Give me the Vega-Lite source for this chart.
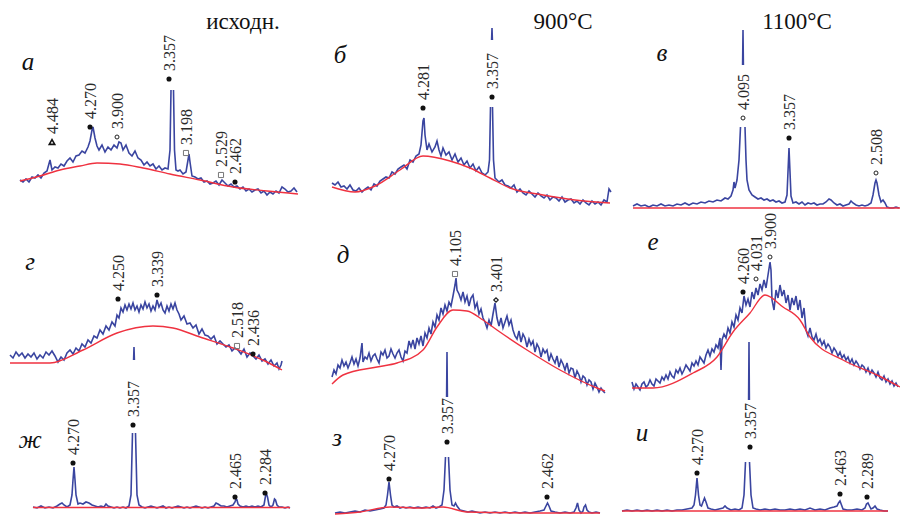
{
"$schema": "https://vega.github.io/schema/vega-lite/v6.json",
"autosize": {"type": "pad"},
"padding": 0,
"background": "white",
"config": {"view": {"stroke": null}},
"data": {"values": [
{"r":0,"c":0,"s":0,"x":20,"y":42},{"r":0,"c":0,"s":0,"x":23,"y":40},{"r":0,"c":0,"s":0,"x":26,"y":43},{"r":0,"c":0,"s":0,"x":29,"y":40},{"r":0,"c":0,"s":0,"x":32,"y":45},{"r":0,"c":0,"s":0,"x":35,"y":44},{"r":0,"c":0,"s":0,"x":38,"y":47},{"r":0,"c":0,"s":0,"x":41,"y":44},{"r":0,"c":0,"s":0,"x":44,"y":49},{"r":0,"c":0,"s":0,"x":47,"y":51},{"r":0,"c":0,"s":0,"x":50,"y":62},{"r":0,"c":0,"s":0,"x":52,"y":52},{"r":0,"c":0,"s":0,"x":55,"y":55},{"r":0,"c":0,"s":0,"x":58,"y":54},{"r":0,"c":0,"s":0,"x":61,"y":58},{"r":0,"c":0,"s":0,"x":64,"y":56},{"r":0,"c":0,"s":0,"x":67,"y":61},{"r":0,"c":0,"s":0,"x":70,"y":64},{"r":0,"c":0,"s":0,"x":73,"y":60},{"r":0,"c":0,"s":0,"x":76,"y":66},{"r":0,"c":0,"s":0,"x":79,"y":67},{"r":0,"c":0,"s":0,"x":82,"y":71},{"r":0,"c":0,"s":0,"x":85,"y":69},{"r":0,"c":0,"s":0,"x":88,"y":75},{"r":0,"c":0,"s":0,"x":90,"y":81},{"r":0,"c":0,"s":0,"x":92,"y":92},{"r":0,"c":0,"s":0,"x":93,"y":95},{"r":0,"c":0,"s":0,"x":95,"y":84},{"r":0,"c":0,"s":0,"x":97,"y":76},{"r":0,"c":0,"s":0,"x":99,"y":72},{"r":0,"c":0,"s":0,"x":102,"y":77},{"r":0,"c":0,"s":0,"x":105,"y":70},{"r":0,"c":0,"s":0,"x":108,"y":75},{"r":0,"c":0,"s":0,"x":111,"y":72},{"r":0,"c":0,"s":0,"x":114,"y":77},{"r":0,"c":0,"s":0,"x":117,"y":74},{"r":0,"c":0,"s":0,"x":119,"y":80},{"r":0,"c":0,"s":0,"x":121,"y":79},{"r":0,"c":0,"s":0,"x":123,"y":72},{"r":0,"c":0,"s":0,"x":126,"y":77},{"r":0,"c":0,"s":0,"x":129,"y":69},{"r":0,"c":0,"s":0,"x":132,"y":66},{"r":0,"c":0,"s":0,"x":135,"y":71},{"r":0,"c":0,"s":0,"x":138,"y":64},{"r":0,"c":0,"s":0,"x":141,"y":62},{"r":0,"c":0,"s":0,"x":144,"y":57},{"r":0,"c":0,"s":0,"x":147,"y":60},{"r":0,"c":0,"s":0,"x":150,"y":56},{"r":0,"c":0,"s":0,"x":153,"y":58},{"r":0,"c":0,"s":0,"x":156,"y":53},{"r":0,"c":0,"s":0,"x":159,"y":56},{"r":0,"c":0,"s":0,"x":162,"y":52},{"r":0,"c":0,"s":0,"x":165,"y":54},{"r":0,"c":0,"s":0,"x":168,"y":53},{"r":0,"c":0,"s":0,"x":170,"y":72},{"r":0,"c":0,"s":0,"x":171,"y":132},
{"r":0,"c":0,"s":1,"x":173.5,"y":132},{"r":0,"c":0,"s":1,"x":174.5,"y":72},{"r":0,"c":0,"s":1,"x":176,"y":52},{"r":0,"c":0,"s":1,"x":178,"y":51},{"r":0,"c":0,"s":1,"x":180,"y":52},{"r":0,"c":0,"s":1,"x":183,"y":48},{"r":0,"c":0,"s":1,"x":186,"y":50},{"r":0,"c":0,"s":1,"x":188,"y":62},{"r":0,"c":0,"s":1,"x":189,"y":68},{"r":0,"c":0,"s":1,"x":190,"y":60},{"r":0,"c":0,"s":1,"x":192,"y":46},{"r":0,"c":0,"s":1,"x":195,"y":45},{"r":0,"c":0,"s":1,"x":198,"y":43},{"r":0,"c":0,"s":1,"x":201,"y":44},{"r":0,"c":0,"s":1,"x":204,"y":40},{"r":0,"c":0,"s":1,"x":207,"y":41},{"r":0,"c":0,"s":1,"x":210,"y":38},{"r":0,"c":0,"s":1,"x":213,"y":39},{"r":0,"c":0,"s":1,"x":216,"y":41},{"r":0,"c":0,"s":1,"x":219,"y":37},{"r":0,"c":0,"s":1,"x":222,"y":42},{"r":0,"c":0,"s":1,"x":225,"y":39},{"r":0,"c":0,"s":1,"x":228,"y":36},{"r":0,"c":0,"s":1,"x":231,"y":38},{"r":0,"c":0,"s":1,"x":234,"y":35},{"r":0,"c":0,"s":1,"x":237,"y":36},{"r":0,"c":0,"s":1,"x":240,"y":33},{"r":0,"c":0,"s":1,"x":243,"y":35},{"r":0,"c":0,"s":1,"x":246,"y":31},{"r":0,"c":0,"s":1,"x":249,"y":33},{"r":0,"c":0,"s":1,"x":252,"y":30},{"r":0,"c":0,"s":1,"x":255,"y":32},{"r":0,"c":0,"s":1,"x":258,"y":33},{"r":0,"c":0,"s":1,"x":261,"y":29},{"r":0,"c":0,"s":1,"x":264,"y":31},{"r":0,"c":0,"s":1,"x":267,"y":27},{"r":0,"c":0,"s":1,"x":270,"y":30},{"r":0,"c":0,"s":1,"x":273,"y":28},{"r":0,"c":0,"s":1,"x":276,"y":31},{"r":0,"c":0,"s":1,"x":279,"y":29},{"r":0,"c":0,"s":1,"x":282,"y":35},{"r":0,"c":0,"s":1,"x":285,"y":33},{"r":0,"c":0,"s":1,"x":288,"y":30},{"r":0,"c":0,"s":1,"x":291,"y":31},{"r":0,"c":0,"s":1,"x":294,"y":34},{"r":0,"c":0,"s":1,"x":297,"y":30},
{"r":0,"c":0,"s":3,"x":20,"y":41},{"r":0,"c":0,"s":3,"x":40,"y":46},{"r":0,"c":0,"s":3,"x":60,"y":52},{"r":0,"c":0,"s":3,"x":80,"y":56},{"r":0,"c":0,"s":3,"x":97,"y":59},{"r":0,"c":0,"s":3,"x":120,"y":58},{"r":0,"c":0,"s":3,"x":143,"y":54},{"r":0,"c":0,"s":3,"x":170,"y":48},{"r":0,"c":0,"s":3,"x":200,"y":42},{"r":0,"c":0,"s":3,"x":233,"y":35},{"r":0,"c":0,"s":3,"x":267,"y":31},{"r":0,"c":0,"s":3,"x":298,"y":28},

{"r":0,"c":1,"s":0,"x":32,"y":39},{"r":0,"c":1,"s":0,"x":35,"y":37},{"r":0,"c":1,"s":0,"x":38,"y":40},{"r":0,"c":1,"s":0,"x":41,"y":35},{"r":0,"c":1,"s":0,"x":44,"y":36},{"r":0,"c":1,"s":0,"x":47,"y":33},{"r":0,"c":1,"s":0,"x":50,"y":37},{"r":0,"c":1,"s":0,"x":53,"y":32},{"r":0,"c":1,"s":0,"x":56,"y":31},{"r":0,"c":1,"s":0,"x":59,"y":34},{"r":0,"c":1,"s":0,"x":62,"y":30},{"r":0,"c":1,"s":0,"x":65,"y":33},{"r":0,"c":1,"s":0,"x":68,"y":35},{"r":0,"c":1,"s":0,"x":71,"y":32},{"r":0,"c":1,"s":0,"x":74,"y":38},{"r":0,"c":1,"s":0,"x":77,"y":36},{"r":0,"c":1,"s":0,"x":80,"y":41},{"r":0,"c":1,"s":0,"x":83,"y":43},{"r":0,"c":1,"s":0,"x":86,"y":45},{"r":0,"c":1,"s":0,"x":89,"y":44},{"r":0,"c":1,"s":0,"x":92,"y":50},{"r":0,"c":1,"s":0,"x":95,"y":48},{"r":0,"c":1,"s":0,"x":98,"y":53},{"r":0,"c":1,"s":0,"x":101,"y":55},{"r":0,"c":1,"s":0,"x":104,"y":57},{"r":0,"c":1,"s":0,"x":107,"y":53},{"r":0,"c":1,"s":0,"x":110,"y":62},{"r":0,"c":1,"s":0,"x":113,"y":60},{"r":0,"c":1,"s":0,"x":116,"y":66},{"r":0,"c":1,"s":0,"x":119,"y":68},{"r":0,"c":1,"s":0,"x":121,"y":77},{"r":0,"c":1,"s":0,"x":123,"y":101},{"r":0,"c":1,"s":0,"x":124,"y":104},{"r":0,"c":1,"s":0,"x":125,"y":87},{"r":0,"c":1,"s":0,"x":127,"y":72},{"r":0,"c":1,"s":0,"x":129,"y":78},{"r":0,"c":1,"s":0,"x":132,"y":70},{"r":0,"c":1,"s":0,"x":135,"y":75},{"r":0,"c":1,"s":0,"x":137,"y":81},{"r":0,"c":1,"s":0,"x":139,"y":72},{"r":0,"c":1,"s":0,"x":141,"y":66},{"r":0,"c":1,"s":0,"x":143,"y":74},{"r":0,"c":1,"s":0,"x":146,"y":67},{"r":0,"c":1,"s":0,"x":149,"y":70},{"r":0,"c":1,"s":0,"x":152,"y":62},{"r":0,"c":1,"s":0,"x":155,"y":68},{"r":0,"c":1,"s":0,"x":158,"y":60},{"r":0,"c":1,"s":0,"x":161,"y":64},{"r":0,"c":1,"s":0,"x":164,"y":57},{"r":0,"c":1,"s":0,"x":167,"y":61},{"r":0,"c":1,"s":0,"x":170,"y":54},{"r":0,"c":1,"s":0,"x":173,"y":58},{"r":0,"c":1,"s":0,"x":176,"y":51},{"r":0,"c":1,"s":0,"x":179,"y":55},{"r":0,"c":1,"s":0,"x":182,"y":49},{"r":0,"c":1,"s":0,"x":185,"y":47},{"r":0,"c":1,"s":0,"x":188,"y":50},{"r":0,"c":1,"s":0,"x":189.5,"y":62},{"r":0,"c":1,"s":0,"x":190.5,"y":115},
{"r":0,"c":1,"s":1,"x":192.5,"y":115},{"r":0,"c":1,"s":1,"x":193.5,"y":62},{"r":0,"c":1,"s":1,"x":195,"y":44},{"r":0,"c":1,"s":1,"x":199,"y":40},{"r":0,"c":1,"s":1,"x":202,"y":42},{"r":0,"c":1,"s":1,"x":205,"y":37},{"r":0,"c":1,"s":1,"x":208,"y":36},{"r":0,"c":1,"s":1,"x":211,"y":34},{"r":0,"c":1,"s":1,"x":214,"y":37},{"r":0,"c":1,"s":1,"x":217,"y":30},{"r":0,"c":1,"s":1,"x":220,"y":33},{"r":0,"c":1,"s":1,"x":223,"y":29},{"r":0,"c":1,"s":1,"x":226,"y":27},{"r":0,"c":1,"s":1,"x":229,"y":31},{"r":0,"c":1,"s":1,"x":232,"y":28},{"r":0,"c":1,"s":1,"x":235,"y":25},{"r":0,"c":1,"s":1,"x":238,"y":29},{"r":0,"c":1,"s":1,"x":241,"y":26},{"r":0,"c":1,"s":1,"x":244,"y":24},{"r":0,"c":1,"s":1,"x":247,"y":27},{"r":0,"c":1,"s":1,"x":250,"y":22},{"r":0,"c":1,"s":1,"x":253,"y":25},{"r":0,"c":1,"s":1,"x":256,"y":24},{"r":0,"c":1,"s":1,"x":259,"y":21},{"r":0,"c":1,"s":1,"x":262,"y":25},{"r":0,"c":1,"s":1,"x":265,"y":20},{"r":0,"c":1,"s":1,"x":268,"y":22},{"r":0,"c":1,"s":1,"x":271,"y":23},{"r":0,"c":1,"s":1,"x":274,"y":19},{"r":0,"c":1,"s":1,"x":277,"y":21},{"r":0,"c":1,"s":1,"x":280,"y":18},{"r":0,"c":1,"s":1,"x":283,"y":22},{"r":0,"c":1,"s":1,"x":286,"y":19},{"r":0,"c":1,"s":1,"x":289,"y":17},{"r":0,"c":1,"s":1,"x":292,"y":21},{"r":0,"c":1,"s":1,"x":295,"y":18},{"r":0,"c":1,"s":1,"x":298,"y":20},{"r":0,"c":1,"s":1,"x":301,"y":17},{"r":0,"c":1,"s":1,"x":304,"y":22},{"r":0,"c":1,"s":1,"x":307,"y":20},{"r":0,"c":1,"s":1,"x":309,"y":33},{"r":0,"c":1,"s":1,"x":311,"y":30},
{"r":0,"c":1,"s":2,"x":191.6,"y":182},{"r":0,"c":1,"s":2,"x":192,"y":194},{"r":0,"c":1,"s":2,"x":192.4,"y":182},
{"r":0,"c":1,"s":3,"x":32,"y":35},{"r":0,"c":1,"s":3,"x":55,"y":30},{"r":0,"c":1,"s":3,"x":75,"y":36},{"r":0,"c":1,"s":3,"x":100,"y":52},{"r":0,"c":1,"s":3,"x":123,"y":66},{"r":0,"c":1,"s":3,"x":150,"y":61},{"r":0,"c":1,"s":3,"x":170,"y":54},{"r":0,"c":1,"s":3,"x":190,"y":44},{"r":0,"c":1,"s":3,"x":210,"y":34},{"r":0,"c":1,"s":3,"x":243,"y":27},{"r":0,"c":1,"s":3,"x":275,"y":22},{"r":0,"c":1,"s":3,"x":310,"y":19},

{"r":0,"c":2,"s":0,"x":33,"y":16},{"r":0,"c":2,"s":0,"x":37,"y":18},{"r":0,"c":2,"s":0,"x":41,"y":16},{"r":0,"c":2,"s":0,"x":45,"y":17},{"r":0,"c":2,"s":0,"x":49,"y":15},{"r":0,"c":2,"s":0,"x":53,"y":17},{"r":0,"c":2,"s":0,"x":57,"y":16},{"r":0,"c":2,"s":0,"x":61,"y":18},{"r":0,"c":2,"s":0,"x":65,"y":16},{"r":0,"c":2,"s":0,"x":69,"y":17},{"r":0,"c":2,"s":0,"x":73,"y":16},{"r":0,"c":2,"s":0,"x":77,"y":18},{"r":0,"c":2,"s":0,"x":81,"y":17},{"r":0,"c":2,"s":0,"x":85,"y":19},{"r":0,"c":2,"s":0,"x":89,"y":17},{"r":0,"c":2,"s":0,"x":93,"y":19},{"r":0,"c":2,"s":0,"x":97,"y":18},{"r":0,"c":2,"s":0,"x":101,"y":20},{"r":0,"c":2,"s":0,"x":105,"y":19},{"r":0,"c":2,"s":0,"x":109,"y":21},{"r":0,"c":2,"s":0,"x":113,"y":20},{"r":0,"c":2,"s":0,"x":117,"y":22},{"r":0,"c":2,"s":0,"x":121,"y":21},{"r":0,"c":2,"s":0,"x":125,"y":24},{"r":0,"c":2,"s":0,"x":128,"y":23},{"r":0,"c":2,"s":0,"x":131,"y":26},{"r":0,"c":2,"s":0,"x":133,"y":32},{"r":0,"c":2,"s":0,"x":134,"y":40},{"r":0,"c":2,"s":0,"x":135,"y":34},{"r":0,"c":2,"s":0,"x":137,"y":42},{"r":0,"c":2,"s":0,"x":139,"y":62},{"r":0,"c":2,"s":0,"x":140.5,"y":95},
{"r":0,"c":2,"s":1,"x":145,"y":95},{"r":0,"c":2,"s":1,"x":146,"y":62},{"r":0,"c":2,"s":1,"x":147,"y":42},{"r":0,"c":2,"s":1,"x":149,"y":32},{"r":0,"c":2,"s":1,"x":152,"y":27},{"r":0,"c":2,"s":1,"x":155,"y":25},{"r":0,"c":2,"s":1,"x":158,"y":23},{"r":0,"c":2,"s":1,"x":161,"y":24},{"r":0,"c":2,"s":1,"x":164,"y":22},{"r":0,"c":2,"s":1,"x":167,"y":23},{"r":0,"c":2,"s":1,"x":170,"y":21},{"r":0,"c":2,"s":1,"x":173,"y":22},{"r":0,"c":2,"s":1,"x":176,"y":20},{"r":0,"c":2,"s":1,"x":179,"y":21},{"r":0,"c":2,"s":1,"x":182,"y":19},{"r":0,"c":2,"s":1,"x":185,"y":20},{"r":0,"c":2,"s":1,"x":187,"y":27},{"r":0,"c":2,"s":1,"x":188.5,"y":62},{"r":0,"c":2,"s":1,"x":189,"y":74},{"r":0,"c":2,"s":1,"x":189.5,"y":62},{"r":0,"c":2,"s":1,"x":191,"y":26},{"r":0,"c":2,"s":1,"x":193,"y":19},{"r":0,"c":2,"s":1,"x":196,"y":20},{"r":0,"c":2,"s":1,"x":199,"y":18},{"r":0,"c":2,"s":1,"x":202,"y":20},{"r":0,"c":2,"s":1,"x":205,"y":17},{"r":0,"c":2,"s":1,"x":208,"y":19},{"r":0,"c":2,"s":1,"x":211,"y":18},{"r":0,"c":2,"s":1,"x":214,"y":19},{"r":0,"c":2,"s":1,"x":217,"y":17},{"r":0,"c":2,"s":1,"x":220,"y":18},{"r":0,"c":2,"s":1,"x":223,"y":18},{"r":0,"c":2,"s":1,"x":226,"y":20},{"r":0,"c":2,"s":1,"x":229,"y":23},{"r":0,"c":2,"s":1,"x":231,"y":22},{"r":0,"c":2,"s":1,"x":234,"y":19},{"r":0,"c":2,"s":1,"x":237,"y":17},{"r":0,"c":2,"s":1,"x":240,"y":18},{"r":0,"c":2,"s":1,"x":243,"y":16},{"r":0,"c":2,"s":1,"x":246,"y":17},{"r":0,"c":2,"s":1,"x":249,"y":18},{"r":0,"c":2,"s":1,"x":251,"y":21},{"r":0,"c":2,"s":1,"x":253,"y":19},{"r":0,"c":2,"s":1,"x":256,"y":17},{"r":0,"c":2,"s":1,"x":259,"y":16},{"r":0,"c":2,"s":1,"x":262,"y":17},{"r":0,"c":2,"s":1,"x":265,"y":16},{"r":0,"c":2,"s":1,"x":268,"y":17},{"r":0,"c":2,"s":1,"x":271,"y":19},{"r":0,"c":2,"s":1,"x":273,"y":27},{"r":0,"c":2,"s":1,"x":275,"y":39},{"r":0,"c":2,"s":1,"x":276,"y":42},{"r":0,"c":2,"s":1,"x":277,"y":39},{"r":0,"c":2,"s":1,"x":279,"y":27},{"r":0,"c":2,"s":1,"x":281,"y":20},{"r":0,"c":2,"s":1,"x":283,"y":22},{"r":0,"c":2,"s":1,"x":285,"y":19},{"r":0,"c":2,"s":1,"x":287,"y":15},{"r":0,"c":2,"s":1,"x":290,"y":14},{"r":0,"c":2,"s":1,"x":293,"y":14},{"r":0,"c":2,"s":1,"x":296,"y":15},{"r":0,"c":2,"s":1,"x":299,"y":14},
{"r":0,"c":2,"s":2,"x":142.6,"y":157},{"r":0,"c":2,"s":2,"x":143,"y":192},{"r":0,"c":2,"s":2,"x":143.4,"y":157},
{"r":0,"c":2,"s":3,"x":33,"y":14},{"r":0,"c":2,"s":3,"x":300,"y":14},

{"r":1,"c":0,"s":0,"x":10,"y":39},{"r":1,"c":0,"s":0,"x":13,"y":36},{"r":1,"c":0,"s":0,"x":16,"y":42},{"r":1,"c":0,"s":0,"x":19,"y":38},{"r":1,"c":0,"s":0,"x":22,"y":41},{"r":1,"c":0,"s":0,"x":25,"y":36},{"r":1,"c":0,"s":0,"x":28,"y":40},{"r":1,"c":0,"s":0,"x":31,"y":37},{"r":1,"c":0,"s":0,"x":34,"y":41},{"r":1,"c":0,"s":0,"x":37,"y":35},{"r":1,"c":0,"s":0,"x":40,"y":39},{"r":1,"c":0,"s":0,"x":43,"y":36},{"r":1,"c":0,"s":0,"x":46,"y":42},{"r":1,"c":0,"s":0,"x":49,"y":39},{"r":1,"c":0,"s":0,"x":52,"y":43},{"r":1,"c":0,"s":0,"x":55,"y":38},{"r":1,"c":0,"s":0,"x":58,"y":32},{"r":1,"c":0,"s":0,"x":61,"y":37},{"r":1,"c":0,"s":0,"x":64,"y":34},{"r":1,"c":0,"s":0,"x":67,"y":41},{"r":1,"c":0,"s":0,"x":70,"y":44},{"r":1,"c":0,"s":0,"x":73,"y":40},{"r":1,"c":0,"s":0,"x":76,"y":46},{"r":1,"c":0,"s":0,"x":79,"y":43},{"r":1,"c":0,"s":0,"x":82,"y":50},{"r":1,"c":0,"s":0,"x":85,"y":47},{"r":1,"c":0,"s":0,"x":88,"y":54},{"r":1,"c":0,"s":0,"x":91,"y":51},{"r":1,"c":0,"s":0,"x":94,"y":58},{"r":1,"c":0,"s":0,"x":97,"y":56},{"r":1,"c":0,"s":0,"x":100,"y":64},{"r":1,"c":0,"s":0,"x":103,"y":60},{"r":1,"c":0,"s":0,"x":106,"y":68},{"r":1,"c":0,"s":0,"x":109,"y":64},{"r":1,"c":0,"s":0,"x":112,"y":72},{"r":1,"c":0,"s":0,"x":115,"y":68},{"r":1,"c":0,"s":0,"x":117,"y":79},{"r":1,"c":0,"s":0,"x":119,"y":76},{"r":1,"c":0,"s":0,"x":121,"y":86},{"r":1,"c":0,"s":0,"x":123,"y":82},{"r":1,"c":0,"s":0,"x":125,"y":89},{"r":1,"c":0,"s":0,"x":127,"y":84},{"r":1,"c":0,"s":0,"x":129,"y":90},{"r":1,"c":0,"s":0,"x":131,"y":85},{"r":1,"c":0,"s":0,"x":133,"y":91},{"r":1,"c":0,"s":0,"x":135,"y":84},{"r":1,"c":0,"s":0,"x":137,"y":88},{"r":1,"c":0,"s":0,"x":139,"y":82},{"r":1,"c":0,"s":0,"x":141,"y":89},{"r":1,"c":0,"s":0,"x":143,"y":85},{"r":1,"c":0,"s":0,"x":145,"y":92},{"r":1,"c":0,"s":0,"x":147,"y":86},{"r":1,"c":0,"s":0,"x":149,"y":90},{"r":1,"c":0,"s":0,"x":151,"y":83},{"r":1,"c":0,"s":0,"x":153,"y":88},{"r":1,"c":0,"s":0,"x":155,"y":84},{"r":1,"c":0,"s":0,"x":157,"y":94},{"r":1,"c":0,"s":0,"x":159,"y":87},{"r":1,"c":0,"s":0,"x":161,"y":91},{"r":1,"c":0,"s":0,"x":163,"y":84},{"r":1,"c":0,"s":0,"x":165,"y":81},{"r":1,"c":0,"s":0,"x":167,"y":88},{"r":1,"c":0,"s":0,"x":169,"y":83},{"r":1,"c":0,"s":0,"x":171,"y":90},{"r":1,"c":0,"s":0,"x":173,"y":85},{"r":1,"c":0,"s":0,"x":175,"y":91},{"r":1,"c":0,"s":0,"x":177,"y":84},{"r":1,"c":0,"s":0,"x":179,"y":80},{"r":1,"c":0,"s":0,"x":181,"y":74},{"r":1,"c":0,"s":0,"x":184,"y":78},{"r":1,"c":0,"s":0,"x":187,"y":70},{"r":1,"c":0,"s":0,"x":190,"y":71},{"r":1,"c":0,"s":0,"x":193,"y":66},{"r":1,"c":0,"s":0,"x":196,"y":69},{"r":1,"c":0,"s":0,"x":199,"y":60},{"r":1,"c":0,"s":0,"x":202,"y":65},{"r":1,"c":0,"s":0,"x":205,"y":59},{"r":1,"c":0,"s":0,"x":208,"y":58},{"r":1,"c":0,"s":0,"x":211,"y":55},{"r":1,"c":0,"s":0,"x":214,"y":58},{"r":1,"c":0,"s":0,"x":217,"y":50},{"r":1,"c":0,"s":0,"x":220,"y":53},{"r":1,"c":0,"s":0,"x":223,"y":50},{"r":1,"c":0,"s":0,"x":226,"y":47},{"r":1,"c":0,"s":0,"x":229,"y":49},{"r":1,"c":0,"s":0,"x":232,"y":43},{"r":1,"c":0,"s":0,"x":235,"y":46},{"r":1,"c":0,"s":0,"x":238,"y":44},{"r":1,"c":0,"s":0,"x":241,"y":40},{"r":1,"c":0,"s":0,"x":244,"y":45},{"r":1,"c":0,"s":0,"x":247,"y":37},{"r":1,"c":0,"s":0,"x":250,"y":41},{"r":1,"c":0,"s":0,"x":253,"y":38},{"r":1,"c":0,"s":0,"x":256,"y":35},{"r":1,"c":0,"s":0,"x":259,"y":39},{"r":1,"c":0,"s":0,"x":262,"y":33},{"r":1,"c":0,"s":0,"x":265,"y":35},{"r":1,"c":0,"s":0,"x":268,"y":30},{"r":1,"c":0,"s":0,"x":271,"y":34},{"r":1,"c":0,"s":0,"x":274,"y":28},{"r":1,"c":0,"s":0,"x":277,"y":31},{"r":1,"c":0,"s":0,"x":279,"y":25},{"r":1,"c":0,"s":0,"x":281,"y":29},{"r":1,"c":0,"s":0,"x":282,"y":33},
{"r":1,"c":0,"s":3,"x":10,"y":31},{"r":1,"c":0,"s":3,"x":50,"y":31},{"r":1,"c":0,"s":3,"x":83,"y":44},{"r":1,"c":0,"s":3,"x":117,"y":61},{"r":1,"c":0,"s":3,"x":153,"y":68},{"r":1,"c":0,"s":3,"x":173,"y":66},{"r":1,"c":0,"s":3,"x":200,"y":57},{"r":1,"c":0,"s":3,"x":233,"y":46},{"r":1,"c":0,"s":3,"x":267,"y":32},{"r":1,"c":0,"s":3,"x":282,"y":24},

{"r":1,"c":1,"s":0,"x":32,"y":17},{"r":1,"c":1,"s":0,"x":34,"y":24},{"r":1,"c":1,"s":0,"x":36,"y":20},{"r":1,"c":1,"s":0,"x":38,"y":29},{"r":1,"c":1,"s":0,"x":40,"y":26},{"r":1,"c":1,"s":0,"x":42,"y":34},{"r":1,"c":1,"s":0,"x":44,"y":28},{"r":1,"c":1,"s":0,"x":46,"y":32},{"r":1,"c":1,"s":0,"x":48,"y":26},{"r":1,"c":1,"s":0,"x":50,"y":31},{"r":1,"c":1,"s":0,"x":52,"y":37},{"r":1,"c":1,"s":0,"x":54,"y":30},{"r":1,"c":1,"s":0,"x":56,"y":35},{"r":1,"c":1,"s":0,"x":58,"y":28},{"r":1,"c":1,"s":0,"x":60,"y":36},{"r":1,"c":1,"s":0,"x":62,"y":51},{"r":1,"c":1,"s":0,"x":63,"y":32},{"r":1,"c":1,"s":0,"x":65,"y":37},{"r":1,"c":1,"s":0,"x":67,"y":35},{"r":1,"c":1,"s":0,"x":69,"y":41},{"r":1,"c":1,"s":0,"x":71,"y":33},{"r":1,"c":1,"s":0,"x":73,"y":38},{"r":1,"c":1,"s":0,"x":75,"y":40},{"r":1,"c":1,"s":0,"x":77,"y":35},{"r":1,"c":1,"s":0,"x":79,"y":31},{"r":1,"c":1,"s":0,"x":81,"y":42},{"r":1,"c":1,"s":0,"x":83,"y":39},{"r":1,"c":1,"s":0,"x":85,"y":44},{"r":1,"c":1,"s":0,"x":87,"y":36},{"r":1,"c":1,"s":0,"x":89,"y":38},{"r":1,"c":1,"s":0,"x":91,"y":45},{"r":1,"c":1,"s":0,"x":93,"y":40},{"r":1,"c":1,"s":0,"x":95,"y":36},{"r":1,"c":1,"s":0,"x":97,"y":41},{"r":1,"c":1,"s":0,"x":99,"y":44},{"r":1,"c":1,"s":0,"x":101,"y":37},{"r":1,"c":1,"s":0,"x":103,"y":33},{"r":1,"c":1,"s":0,"x":105,"y":43},{"r":1,"c":1,"s":0,"x":107,"y":41},{"r":1,"c":1,"s":0,"x":109,"y":53},{"r":1,"c":1,"s":0,"x":111,"y":47},{"r":1,"c":1,"s":0,"x":113,"y":54},{"r":1,"c":1,"s":0,"x":115,"y":45},{"r":1,"c":1,"s":0,"x":117,"y":56},{"r":1,"c":1,"s":0,"x":119,"y":50},{"r":1,"c":1,"s":0,"x":121,"y":58},{"r":1,"c":1,"s":0,"x":123,"y":48},{"r":1,"c":1,"s":0,"x":125,"y":61},{"r":1,"c":1,"s":0,"x":127,"y":56},{"r":1,"c":1,"s":0,"x":129,"y":66},{"r":1,"c":1,"s":0,"x":131,"y":60},{"r":1,"c":1,"s":0,"x":133,"y":72},{"r":1,"c":1,"s":0,"x":135,"y":67},{"r":1,"c":1,"s":0,"x":137,"y":79},{"r":1,"c":1,"s":0,"x":139,"y":74},{"r":1,"c":1,"s":0,"x":141,"y":86},{"r":1,"c":1,"s":0,"x":143,"y":80},{"r":1,"c":1,"s":0,"x":145,"y":89},{"r":1,"c":1,"s":0,"x":147,"y":83},{"r":1,"c":1,"s":0,"x":149,"y":92},{"r":1,"c":1,"s":0,"x":151,"y":88},{"r":1,"c":1,"s":0,"x":153,"y":98},{"r":1,"c":1,"s":0,"x":155,"y":109},{"r":1,"c":1,"s":0,"x":156,"y":116},{"r":1,"c":1,"s":0,"x":157,"y":104},{"r":1,"c":1,"s":0,"x":159,"y":100},{"r":1,"c":1,"s":0,"x":161,"y":94},{"r":1,"c":1,"s":0,"x":163,"y":102},{"r":1,"c":1,"s":0,"x":165,"y":92},{"r":1,"c":1,"s":0,"x":167,"y":98},{"r":1,"c":1,"s":0,"x":169,"y":88},{"r":1,"c":1,"s":0,"x":171,"y":96},{"r":1,"c":1,"s":0,"x":173,"y":99},{"r":1,"c":1,"s":0,"x":175,"y":86},{"r":1,"c":1,"s":0,"x":177,"y":91},{"r":1,"c":1,"s":0,"x":179,"y":80},{"r":1,"c":1,"s":0,"x":181,"y":85},{"r":1,"c":1,"s":0,"x":183,"y":76},{"r":1,"c":1,"s":0,"x":185,"y":72},{"r":1,"c":1,"s":0,"x":187,"y":66},{"r":1,"c":1,"s":0,"x":189,"y":74},{"r":1,"c":1,"s":0,"x":191,"y":68},{"r":1,"c":1,"s":0,"x":193,"y":80},{"r":1,"c":1,"s":0,"x":195,"y":91},{"r":1,"c":1,"s":0,"x":197,"y":76},{"r":1,"c":1,"s":0,"x":199,"y":68},{"r":1,"c":1,"s":0,"x":201,"y":76},{"r":1,"c":1,"s":0,"x":203,"y":66},{"r":1,"c":1,"s":0,"x":205,"y":72},{"r":1,"c":1,"s":0,"x":207,"y":78},{"r":1,"c":1,"s":0,"x":209,"y":69},{"r":1,"c":1,"s":0,"x":211,"y":74},{"r":1,"c":1,"s":0,"x":213,"y":64},{"r":1,"c":1,"s":0,"x":215,"y":58},{"r":1,"c":1,"s":0,"x":217,"y":55},{"r":1,"c":1,"s":0,"x":219,"y":63},{"r":1,"c":1,"s":0,"x":221,"y":52},{"r":1,"c":1,"s":0,"x":223,"y":60},{"r":1,"c":1,"s":0,"x":225,"y":56},{"r":1,"c":1,"s":0,"x":227,"y":47},{"r":1,"c":1,"s":0,"x":229,"y":55},{"r":1,"c":1,"s":0,"x":231,"y":49},{"r":1,"c":1,"s":0,"x":233,"y":53},{"r":1,"c":1,"s":0,"x":235,"y":42},{"r":1,"c":1,"s":0,"x":237,"y":50},{"r":1,"c":1,"s":0,"x":239,"y":46},{"r":1,"c":1,"s":0,"x":241,"y":37},{"r":1,"c":1,"s":0,"x":243,"y":45},{"r":1,"c":1,"s":0,"x":245,"y":41},{"r":1,"c":1,"s":0,"x":247,"y":44},{"r":1,"c":1,"s":0,"x":249,"y":33},{"r":1,"c":1,"s":0,"x":251,"y":40},{"r":1,"c":1,"s":0,"x":253,"y":35},{"r":1,"c":1,"s":0,"x":255,"y":31},{"r":1,"c":1,"s":0,"x":257,"y":38},{"r":1,"c":1,"s":0,"x":259,"y":27},{"r":1,"c":1,"s":0,"x":261,"y":34},{"r":1,"c":1,"s":0,"x":263,"y":30},{"r":1,"c":1,"s":0,"x":265,"y":24},{"r":1,"c":1,"s":0,"x":267,"y":31},{"r":1,"c":1,"s":0,"x":269,"y":21},{"r":1,"c":1,"s":0,"x":271,"y":26},{"r":1,"c":1,"s":0,"x":273,"y":25},{"r":1,"c":1,"s":0,"x":275,"y":16},{"r":1,"c":1,"s":0,"x":277,"y":23},{"r":1,"c":1,"s":0,"x":279,"y":19},{"r":1,"c":1,"s":0,"x":281,"y":12},{"r":1,"c":1,"s":0,"x":283,"y":18},{"r":1,"c":1,"s":0,"x":285,"y":16},{"r":1,"c":1,"s":0,"x":287,"y":9},{"r":1,"c":1,"s":0,"x":289,"y":14},{"r":1,"c":1,"s":0,"x":291,"y":12},{"r":1,"c":1,"s":0,"x":293,"y":5},{"r":1,"c":1,"s":0,"x":295,"y":11},{"r":1,"c":1,"s":0,"x":297,"y":7},{"r":1,"c":1,"s":0,"x":299,"y":2},{"r":1,"c":1,"s":0,"x":301,"y":6},{"r":1,"c":1,"s":0,"x":303,"y":3},{"r":1,"c":1,"s":0,"x":305,"y":1},
{"r":1,"c":1,"s":3,"x":32,"y":10},{"r":1,"c":1,"s":3,"x":43,"y":19},{"r":1,"c":1,"s":3,"x":77,"y":27},{"r":1,"c":1,"s":3,"x":97,"y":31},{"r":1,"c":1,"s":3,"x":123,"y":44},{"r":1,"c":1,"s":3,"x":137,"y":67},{"r":1,"c":1,"s":3,"x":153,"y":84},{"r":1,"c":1,"s":3,"x":167,"y":83},{"r":1,"c":1,"s":3,"x":183,"y":74},{"r":1,"c":1,"s":3,"x":197,"y":64},{"r":1,"c":1,"s":3,"x":227,"y":44},{"r":1,"c":1,"s":3,"x":260,"y":24},{"r":1,"c":1,"s":3,"x":297,"y":6},{"r":1,"c":1,"s":3,"x":305,"y":3},

{"r":1,"c":2,"s":0,"x":32,"y":12},{"r":1,"c":2,"s":0,"x":34,"y":5},{"r":1,"c":2,"s":0,"x":36,"y":10},{"r":1,"c":2,"s":0,"x":38,"y":7},{"r":1,"c":2,"s":0,"x":40,"y":4},{"r":1,"c":2,"s":0,"x":42,"y":10},{"r":1,"c":2,"s":0,"x":44,"y":12},{"r":1,"c":2,"s":0,"x":46,"y":7},{"r":1,"c":2,"s":0,"x":48,"y":9},{"r":1,"c":2,"s":0,"x":50,"y":14},{"r":1,"c":2,"s":0,"x":52,"y":10},{"r":1,"c":2,"s":0,"x":54,"y":8},{"r":1,"c":2,"s":0,"x":56,"y":15},{"r":1,"c":2,"s":0,"x":58,"y":13},{"r":1,"c":2,"s":0,"x":60,"y":11},{"r":1,"c":2,"s":0,"x":62,"y":17},{"r":1,"c":2,"s":0,"x":64,"y":14},{"r":1,"c":2,"s":0,"x":66,"y":19},{"r":1,"c":2,"s":0,"x":68,"y":15},{"r":1,"c":2,"s":0,"x":70,"y":22},{"r":1,"c":2,"s":0,"x":72,"y":18},{"r":1,"c":2,"s":0,"x":74,"y":16},{"r":1,"c":2,"s":0,"x":76,"y":24},{"r":1,"c":2,"s":0,"x":78,"y":21},{"r":1,"c":2,"s":0,"x":80,"y":26},{"r":1,"c":2,"s":0,"x":82,"y":20},{"r":1,"c":2,"s":0,"x":84,"y":24},{"r":1,"c":2,"s":0,"x":86,"y":29},{"r":1,"c":2,"s":0,"x":88,"y":26},{"r":1,"c":2,"s":0,"x":90,"y":23},{"r":1,"c":2,"s":0,"x":92,"y":31},{"r":1,"c":2,"s":0,"x":94,"y":28},{"r":1,"c":2,"s":0,"x":96,"y":33},{"r":1,"c":2,"s":0,"x":98,"y":29},{"r":1,"c":2,"s":0,"x":100,"y":37},{"r":1,"c":2,"s":0,"x":102,"y":34},{"r":1,"c":2,"s":0,"x":104,"y":31},{"r":1,"c":2,"s":0,"x":106,"y":39},{"r":1,"c":2,"s":0,"x":108,"y":44},{"r":1,"c":2,"s":0,"x":110,"y":38},{"r":1,"c":2,"s":0,"x":112,"y":45},{"r":1,"c":2,"s":0,"x":114,"y":42},{"r":1,"c":2,"s":0,"x":116,"y":49},{"r":1,"c":2,"s":0,"x":118,"y":46},{"r":1,"c":2,"s":0,"x":120,"y":56},{"r":1,"c":2,"s":0,"x":121,"y":24},{"r":1,"c":2,"s":0,"x":122,"y":54},{"r":1,"c":2,"s":0,"x":124,"y":60},{"r":1,"c":2,"s":0,"x":126,"y":56},{"r":1,"c":2,"s":0,"x":128,"y":66},{"r":1,"c":2,"s":0,"x":130,"y":61},{"r":1,"c":2,"s":0,"x":132,"y":72},{"r":1,"c":2,"s":0,"x":134,"y":67},{"r":1,"c":2,"s":0,"x":136,"y":79},{"r":1,"c":2,"s":0,"x":138,"y":74},{"r":1,"c":2,"s":0,"x":140,"y":86},{"r":1,"c":2,"s":0,"x":142,"y":81},{"r":1,"c":2,"s":0,"x":144,"y":98},{"r":1,"c":2,"s":0,"x":146,"y":89},{"r":1,"c":2,"s":0,"x":148,"y":95},{"r":1,"c":2,"s":0,"x":150,"y":87},{"r":1,"c":2,"s":0,"x":152,"y":102},{"r":1,"c":2,"s":0,"x":154,"y":95},{"r":1,"c":2,"s":0,"x":156,"y":106},{"r":1,"c":2,"s":0,"x":158,"y":99},{"r":1,"c":2,"s":0,"x":160,"y":110},{"r":1,"c":2,"s":0,"x":162,"y":104},{"r":1,"c":2,"s":0,"x":164,"y":114},{"r":1,"c":2,"s":0,"x":166,"y":106},{"r":1,"c":2,"s":0,"x":168,"y":119},{"r":1,"c":2,"s":0,"x":170,"y":132},{"r":1,"c":2,"s":0,"x":171,"y":124},{"r":1,"c":2,"s":0,"x":172,"y":94},{"r":1,"c":2,"s":0,"x":174,"y":84},{"r":1,"c":2,"s":0,"x":176,"y":104},{"r":1,"c":2,"s":0,"x":178,"y":96},{"r":1,"c":2,"s":0,"x":180,"y":109},{"r":1,"c":2,"s":0,"x":182,"y":98},{"r":1,"c":2,"s":0,"x":184,"y":104},{"r":1,"c":2,"s":0,"x":186,"y":91},{"r":1,"c":2,"s":0,"x":188,"y":99},{"r":1,"c":2,"s":0,"x":190,"y":84},{"r":1,"c":2,"s":0,"x":192,"y":96},{"r":1,"c":2,"s":0,"x":194,"y":89},{"r":1,"c":2,"s":0,"x":196,"y":98},{"r":1,"c":2,"s":0,"x":198,"y":84},{"r":1,"c":2,"s":0,"x":200,"y":94},{"r":1,"c":2,"s":0,"x":202,"y":76},{"r":1,"c":2,"s":0,"x":204,"y":86},{"r":1,"c":2,"s":0,"x":206,"y":64},{"r":1,"c":2,"s":0,"x":208,"y":58},{"r":1,"c":2,"s":0,"x":210,"y":66},{"r":1,"c":2,"s":0,"x":212,"y":57},{"r":1,"c":2,"s":0,"x":214,"y":54},{"r":1,"c":2,"s":0,"x":216,"y":60},{"r":1,"c":2,"s":0,"x":218,"y":52},{"r":1,"c":2,"s":0,"x":220,"y":55},{"r":1,"c":2,"s":0,"x":222,"y":49},{"r":1,"c":2,"s":0,"x":224,"y":53},{"r":1,"c":2,"s":0,"x":226,"y":46},{"r":1,"c":2,"s":0,"x":228,"y":50},{"r":1,"c":2,"s":0,"x":230,"y":47},{"r":1,"c":2,"s":0,"x":232,"y":41},{"r":1,"c":2,"s":0,"x":234,"y":46},{"r":1,"c":2,"s":0,"x":236,"y":43},{"r":1,"c":2,"s":0,"x":238,"y":38},{"r":1,"c":2,"s":0,"x":240,"y":42},{"r":1,"c":2,"s":0,"x":242,"y":36},{"r":1,"c":2,"s":0,"x":244,"y":39},{"r":1,"c":2,"s":0,"x":246,"y":34},{"r":1,"c":2,"s":0,"x":248,"y":37},{"r":1,"c":2,"s":0,"x":250,"y":31},{"r":1,"c":2,"s":0,"x":252,"y":35},{"r":1,"c":2,"s":0,"x":254,"y":29},{"r":1,"c":2,"s":0,"x":256,"y":33},{"r":1,"c":2,"s":0,"x":258,"y":30},{"r":1,"c":2,"s":0,"x":260,"y":25},{"r":1,"c":2,"s":0,"x":262,"y":29},{"r":1,"c":2,"s":0,"x":264,"y":27},{"r":1,"c":2,"s":0,"x":266,"y":22},{"r":1,"c":2,"s":0,"x":268,"y":26},{"r":1,"c":2,"s":0,"x":270,"y":20},{"r":1,"c":2,"s":0,"x":272,"y":24},{"r":1,"c":2,"s":0,"x":274,"y":21},{"r":1,"c":2,"s":0,"x":276,"y":17},{"r":1,"c":2,"s":0,"x":278,"y":22},{"r":1,"c":2,"s":0,"x":280,"y":16},{"r":1,"c":2,"s":0,"x":282,"y":14},{"r":1,"c":2,"s":0,"x":284,"y":18},{"r":1,"c":2,"s":0,"x":286,"y":12},{"r":1,"c":2,"s":0,"x":288,"y":15},{"r":1,"c":2,"s":0,"x":290,"y":10},{"r":1,"c":2,"s":0,"x":292,"y":13},{"r":1,"c":2,"s":0,"x":294,"y":8},{"r":1,"c":2,"s":0,"x":296,"y":11},{"r":1,"c":2,"s":0,"x":298,"y":7},
{"r":1,"c":2,"s":3,"x":32,"y":6},{"r":1,"c":2,"s":3,"x":53,"y":6},{"r":1,"c":2,"s":3,"x":93,"y":21},{"r":1,"c":2,"s":3,"x":117,"y":37},{"r":1,"c":2,"s":3,"x":133,"y":62},{"r":1,"c":2,"s":3,"x":150,"y":81},{"r":1,"c":2,"s":3,"x":165,"y":99},{"r":1,"c":2,"s":3,"x":183,"y":87},{"r":1,"c":2,"s":3,"x":200,"y":74},{"r":1,"c":2,"s":3,"x":210,"y":57},{"r":1,"c":2,"s":3,"x":243,"y":34},{"r":1,"c":2,"s":3,"x":277,"y":19},{"r":1,"c":2,"s":3,"x":300,"y":7},

{"r":2,"c":0,"s":0,"x":33,"y":59},{"r":2,"c":0,"s":0,"x":37,"y":58},{"r":2,"c":0,"s":0,"x":41,"y":60},{"r":2,"c":0,"s":0,"x":45,"y":58},{"r":2,"c":0,"s":0,"x":49,"y":59},{"r":2,"c":0,"s":0,"x":53,"y":58},{"r":2,"c":0,"s":0,"x":57,"y":60},{"r":2,"c":0,"s":0,"x":60,"y":62},{"r":2,"c":0,"s":0,"x":62,"y":63},{"r":2,"c":0,"s":0,"x":64,"y":61},{"r":2,"c":0,"s":0,"x":67,"y":59},{"r":2,"c":0,"s":0,"x":70,"y":61},{"r":2,"c":0,"s":0,"x":72,"y":71},{"r":2,"c":0,"s":0,"x":73,"y":86},{"r":2,"c":0,"s":0,"x":74,"y":99},{"r":2,"c":0,"s":0,"x":75,"y":86},{"r":2,"c":0,"s":0,"x":76,"y":71},{"r":2,"c":0,"s":0,"x":78,"y":62},{"r":2,"c":0,"s":0,"x":80,"y":63},{"r":2,"c":0,"s":0,"x":83,"y":62},{"r":2,"c":0,"s":0,"x":86,"y":64},{"r":2,"c":0,"s":0,"x":89,"y":63},{"r":2,"c":0,"s":0,"x":92,"y":61},{"r":2,"c":0,"s":0,"x":95,"y":60},{"r":2,"c":0,"s":0,"x":98,"y":59},{"r":2,"c":0,"s":0,"x":101,"y":60},{"r":2,"c":0,"s":0,"x":104,"y":59},{"r":2,"c":0,"s":0,"x":106,"y":62},{"r":2,"c":0,"s":0,"x":108,"y":60},{"r":2,"c":0,"s":0,"x":111,"y":59},{"r":2,"c":0,"s":0,"x":114,"y":58},{"r":2,"c":0,"s":0,"x":117,"y":59},{"r":2,"c":0,"s":0,"x":120,"y":58},{"r":2,"c":0,"s":0,"x":123,"y":59},{"r":2,"c":0,"s":0,"x":126,"y":58},{"r":2,"c":0,"s":0,"x":129,"y":60},{"r":2,"c":0,"s":0,"x":131,"y":71},{"r":2,"c":0,"s":0,"x":132.5,"y":133},
{"r":2,"c":0,"s":1,"x":135.5,"y":133},{"r":2,"c":0,"s":1,"x":137,"y":71},{"r":2,"c":0,"s":1,"x":139,"y":61},{"r":2,"c":0,"s":1,"x":142,"y":59},{"r":2,"c":0,"s":1,"x":145,"y":58},{"r":2,"c":0,"s":1,"x":148,"y":59},{"r":2,"c":0,"s":1,"x":151,"y":60},{"r":2,"c":0,"s":1,"x":154,"y":59},{"r":2,"c":0,"s":1,"x":157,"y":58},{"r":2,"c":0,"s":1,"x":160,"y":59},{"r":2,"c":0,"s":1,"x":163,"y":60},{"r":2,"c":0,"s":1,"x":166,"y":58},{"r":2,"c":0,"s":1,"x":169,"y":59},{"r":2,"c":0,"s":1,"x":172,"y":58},{"r":2,"c":0,"s":1,"x":175,"y":59},{"r":2,"c":0,"s":1,"x":178,"y":60},{"r":2,"c":0,"s":1,"x":181,"y":59},{"r":2,"c":0,"s":1,"x":184,"y":58},{"r":2,"c":0,"s":1,"x":187,"y":59},{"r":2,"c":0,"s":1,"x":190,"y":58},{"r":2,"c":0,"s":1,"x":193,"y":59},{"r":2,"c":0,"s":1,"x":196,"y":60},{"r":2,"c":0,"s":1,"x":199,"y":59},{"r":2,"c":0,"s":1,"x":202,"y":58},{"r":2,"c":0,"s":1,"x":205,"y":59},{"r":2,"c":0,"s":1,"x":208,"y":58},{"r":2,"c":0,"s":1,"x":211,"y":59},{"r":2,"c":0,"s":1,"x":214,"y":60},{"r":2,"c":0,"s":1,"x":216,"y":63},{"r":2,"c":0,"s":1,"x":218,"y":62},{"r":2,"c":0,"s":1,"x":221,"y":60},{"r":2,"c":0,"s":1,"x":224,"y":60},{"r":2,"c":0,"s":1,"x":227,"y":59},{"r":2,"c":0,"s":1,"x":230,"y":60},{"r":2,"c":0,"s":1,"x":233,"y":61},{"r":2,"c":0,"s":1,"x":235,"y":64},{"r":2,"c":0,"s":1,"x":236,"y":67},{"r":2,"c":0,"s":1,"x":237,"y":66},{"r":2,"c":0,"s":1,"x":238,"y":62},{"r":2,"c":0,"s":1,"x":240,"y":60},{"r":2,"c":0,"s":1,"x":243,"y":59},{"r":2,"c":0,"s":1,"x":246,"y":60},{"r":2,"c":0,"s":1,"x":249,"y":59},{"r":2,"c":0,"s":1,"x":252,"y":60},{"r":2,"c":0,"s":1,"x":255,"y":59},{"r":2,"c":0,"s":1,"x":258,"y":60},{"r":2,"c":0,"s":1,"x":261,"y":59},{"r":2,"c":0,"s":1,"x":264,"y":61},{"r":2,"c":0,"s":1,"x":265.5,"y":70},{"r":2,"c":0,"s":1,"x":266.5,"y":72},{"r":2,"c":0,"s":1,"x":267.5,"y":69},{"r":2,"c":0,"s":1,"x":269,"y":61},{"r":2,"c":0,"s":1,"x":271,"y":59},{"r":2,"c":0,"s":1,"x":273,"y":61},{"r":2,"c":0,"s":1,"x":274.5,"y":67},{"r":2,"c":0,"s":1,"x":275.5,"y":66},{"r":2,"c":0,"s":1,"x":277,"y":61},{"r":2,"c":0,"s":1,"x":279,"y":59},{"r":2,"c":0,"s":1,"x":282,"y":59},{"r":2,"c":0,"s":1,"x":285,"y":58},{"r":2,"c":0,"s":1,"x":288,"y":59},{"r":2,"c":0,"s":1,"x":290,"y":58},
{"r":2,"c":0,"s":2,"x":133.6,"y":206},{"r":2,"c":0,"s":2,"x":134,"y":219},{"r":2,"c":0,"s":2,"x":134.4,"y":206},
{"r":2,"c":0,"s":3,"x":33,"y":58.5},{"r":2,"c":0,"s":3,"x":290,"y":58.5},

{"r":2,"c":1,"s":0,"x":35,"y":53},{"r":2,"c":1,"s":0,"x":40,"y":54},{"r":2,"c":1,"s":0,"x":45,"y":53},{"r":2,"c":1,"s":0,"x":50,"y":54},{"r":2,"c":1,"s":0,"x":55,"y":55},{"r":2,"c":1,"s":0,"x":60,"y":54},{"r":2,"c":1,"s":0,"x":65,"y":56},{"r":2,"c":1,"s":0,"x":70,"y":55},{"r":2,"c":1,"s":0,"x":75,"y":56},{"r":2,"c":1,"s":0,"x":80,"y":57},{"r":2,"c":1,"s":0,"x":84,"y":58},{"r":2,"c":1,"s":0,"x":86,"y":61},{"r":2,"c":1,"s":0,"x":87.5,"y":71},{"r":2,"c":1,"s":0,"x":89,"y":84},{"r":2,"c":1,"s":0,"x":90.5,"y":71},{"r":2,"c":1,"s":0,"x":92,"y":61},{"r":2,"c":1,"s":0,"x":94,"y":59},{"r":2,"c":1,"s":0,"x":97,"y":60},{"r":2,"c":1,"s":0,"x":100,"y":58},{"r":2,"c":1,"s":0,"x":103,"y":59},{"r":2,"c":1,"s":0,"x":106,"y":58},{"r":2,"c":1,"s":0,"x":110,"y":59},{"r":2,"c":1,"s":0,"x":114,"y":58},{"r":2,"c":1,"s":0,"x":118,"y":59},{"r":2,"c":1,"s":0,"x":122,"y":58},{"r":2,"c":1,"s":0,"x":126,"y":59},{"r":2,"c":1,"s":0,"x":130,"y":58},{"r":2,"c":1,"s":0,"x":133,"y":60},{"r":2,"c":1,"s":0,"x":136,"y":58},{"r":2,"c":1,"s":0,"x":139,"y":59},{"r":2,"c":1,"s":0,"x":142,"y":61},{"r":2,"c":1,"s":0,"x":144,"y":76},{"r":2,"c":1,"s":0,"x":145.5,"y":109},
{"r":2,"c":1,"s":1,"x":148.5,"y":109},{"r":2,"c":1,"s":1,"x":150,"y":76},{"r":2,"c":1,"s":1,"x":152,"y":61},{"r":2,"c":1,"s":1,"x":154,"y":60},{"r":2,"c":1,"s":1,"x":155.5,"y":63},{"r":2,"c":1,"s":1,"x":157,"y":60},{"r":2,"c":1,"s":1,"x":160,"y":56},{"r":2,"c":1,"s":1,"x":164,"y":55},{"r":2,"c":1,"s":1,"x":168,"y":54},{"r":2,"c":1,"s":1,"x":172,"y":55},{"r":2,"c":1,"s":1,"x":176,"y":54},{"r":2,"c":1,"s":1,"x":180,"y":53},{"r":2,"c":1,"s":1,"x":185,"y":54},{"r":2,"c":1,"s":1,"x":190,"y":53},{"r":2,"c":1,"s":1,"x":195,"y":54},{"r":2,"c":1,"s":1,"x":200,"y":53},{"r":2,"c":1,"s":1,"x":205,"y":54},{"r":2,"c":1,"s":1,"x":210,"y":53},{"r":2,"c":1,"s":1,"x":215,"y":54},{"r":2,"c":1,"s":1,"x":220,"y":53},{"r":2,"c":1,"s":1,"x":225,"y":54},{"r":2,"c":1,"s":1,"x":230,"y":53},{"r":2,"c":1,"s":1,"x":235,"y":54},{"r":2,"c":1,"s":1,"x":240,"y":55},{"r":2,"c":1,"s":1,"x":244,"y":56},{"r":2,"c":1,"s":1,"x":246,"y":60},{"r":2,"c":1,"s":1,"x":247.5,"y":63},{"r":2,"c":1,"s":1,"x":249,"y":60},{"r":2,"c":1,"s":1,"x":251,"y":55},{"r":2,"c":1,"s":1,"x":255,"y":54},{"r":2,"c":1,"s":1,"x":260,"y":53},{"r":2,"c":1,"s":1,"x":265,"y":54},{"r":2,"c":1,"s":1,"x":270,"y":53},{"r":2,"c":1,"s":1,"x":274,"y":54},{"r":2,"c":1,"s":1,"x":276,"y":58},{"r":2,"c":1,"s":1,"x":277.5,"y":63},{"r":2,"c":1,"s":1,"x":279,"y":56},{"r":2,"c":1,"s":1,"x":281,"y":53},{"r":2,"c":1,"s":1,"x":283,"y":55},{"r":2,"c":1,"s":1,"x":284,"y":59},{"r":2,"c":1,"s":1,"x":285.5,"y":61},{"r":2,"c":1,"s":1,"x":287,"y":56},{"r":2,"c":1,"s":1,"x":289,"y":54},{"r":2,"c":1,"s":1,"x":292,"y":53},{"r":2,"c":1,"s":1,"x":296,"y":54},{"r":2,"c":1,"s":1,"x":300,"y":53},
{"r":2,"c":1,"s":2,"x":146.6,"y":169},{"r":2,"c":1,"s":2,"x":147,"y":214},{"r":2,"c":1,"s":2,"x":147.4,"y":169},
{"r":2,"c":1,"s":3,"x":35,"y":52},{"r":2,"c":1,"s":3,"x":60,"y":54},{"r":2,"c":1,"s":3,"x":90,"y":59},{"r":2,"c":1,"s":3,"x":120,"y":58},{"r":2,"c":1,"s":3,"x":143,"y":59},{"r":2,"c":1,"s":3,"x":167,"y":54},{"r":2,"c":1,"s":3,"x":243,"y":53},{"r":2,"c":1,"s":3,"x":300,"y":53},

{"r":2,"c":2,"s":0,"x":22,"y":55},{"r":2,"c":2,"s":0,"x":27,"y":56},{"r":2,"c":2,"s":0,"x":32,"y":55},{"r":2,"c":2,"s":0,"x":37,"y":56},{"r":2,"c":2,"s":0,"x":42,"y":55},{"r":2,"c":2,"s":0,"x":47,"y":56},{"r":2,"c":2,"s":0,"x":52,"y":55},{"r":2,"c":2,"s":0,"x":57,"y":56},{"r":2,"c":2,"s":0,"x":62,"y":55},{"r":2,"c":2,"s":0,"x":67,"y":56},{"r":2,"c":2,"s":0,"x":72,"y":55},{"r":2,"c":2,"s":0,"x":77,"y":56},{"r":2,"c":2,"s":0,"x":82,"y":56},{"r":2,"c":2,"s":0,"x":87,"y":57},{"r":2,"c":2,"s":0,"x":92,"y":58},{"r":2,"c":2,"s":0,"x":94,"y":61},{"r":2,"c":2,"s":0,"x":95.5,"y":71},{"r":2,"c":2,"s":0,"x":97,"y":88},{"r":2,"c":2,"s":0,"x":98.5,"y":71},{"r":2,"c":2,"s":0,"x":100,"y":61},{"r":2,"c":2,"s":0,"x":101.5,"y":60},{"r":2,"c":2,"s":0,"x":103,"y":64},{"r":2,"c":2,"s":0,"x":104.5,"y":68},{"r":2,"c":2,"s":0,"x":106,"y":64},{"r":2,"c":2,"s":0,"x":108,"y":58},{"r":2,"c":2,"s":0,"x":111,"y":57},{"r":2,"c":2,"s":0,"x":115,"y":56},{"r":2,"c":2,"s":0,"x":119,"y":57},{"r":2,"c":2,"s":0,"x":123,"y":58},{"r":2,"c":2,"s":0,"x":125,"y":60},{"r":2,"c":2,"s":0,"x":127,"y":58},{"r":2,"c":2,"s":0,"x":131,"y":56},{"r":2,"c":2,"s":0,"x":135,"y":57},{"r":2,"c":2,"s":0,"x":139,"y":56},{"r":2,"c":2,"s":0,"x":142,"y":58},{"r":2,"c":2,"s":0,"x":144,"y":71},{"r":2,"c":2,"s":0,"x":145.5,"y":104},
{"r":2,"c":2,"s":1,"x":149.5,"y":104},{"r":2,"c":2,"s":1,"x":151,"y":71},{"r":2,"c":2,"s":1,"x":153,"y":58},{"r":2,"c":2,"s":1,"x":156,"y":57},{"r":2,"c":2,"s":1,"x":160,"y":56},{"r":2,"c":2,"s":1,"x":165,"y":57},{"r":2,"c":2,"s":1,"x":170,"y":56},{"r":2,"c":2,"s":1,"x":175,"y":57},{"r":2,"c":2,"s":1,"x":180,"y":56},{"r":2,"c":2,"s":1,"x":185,"y":56},{"r":2,"c":2,"s":1,"x":190,"y":57},{"r":2,"c":2,"s":1,"x":195,"y":56},{"r":2,"c":2,"s":1,"x":200,"y":57},{"r":2,"c":2,"s":1,"x":205,"y":56},{"r":2,"c":2,"s":1,"x":210,"y":58},{"r":2,"c":2,"s":1,"x":215,"y":56},{"r":2,"c":2,"s":1,"x":220,"y":57},{"r":2,"c":2,"s":1,"x":225,"y":56},{"r":2,"c":2,"s":1,"x":230,"y":58},{"r":2,"c":2,"s":1,"x":234,"y":59},{"r":2,"c":2,"s":1,"x":237,"y":60},{"r":2,"c":2,"s":1,"x":238.5,"y":63},{"r":2,"c":2,"s":1,"x":240,"y":65},{"r":2,"c":2,"s":1,"x":241.5,"y":61},{"r":2,"c":2,"s":1,"x":243,"y":57},{"r":2,"c":2,"s":1,"x":247,"y":56},{"r":2,"c":2,"s":1,"x":252,"y":56},{"r":2,"c":2,"s":1,"x":257,"y":57},{"r":2,"c":2,"s":1,"x":262,"y":56},{"r":2,"c":2,"s":1,"x":265,"y":58},{"r":2,"c":2,"s":1,"x":266.5,"y":62},{"r":2,"c":2,"s":1,"x":268,"y":63},{"r":2,"c":2,"s":1,"x":269.5,"y":60},{"r":2,"c":2,"s":1,"x":271,"y":57},{"r":2,"c":2,"s":1,"x":273,"y":58},{"r":2,"c":2,"s":1,"x":275,"y":60},{"r":2,"c":2,"s":1,"x":277,"y":57},{"r":2,"c":2,"s":1,"x":280,"y":56},{"r":2,"c":2,"s":1,"x":284,"y":55},{"r":2,"c":2,"s":1,"x":288,"y":55},
{"r":2,"c":2,"s":2,"x":148.6,"y":166},{"r":2,"c":2,"s":2,"x":149,"y":224},{"r":2,"c":2,"s":2,"x":149.4,"y":166},
{"r":2,"c":2,"s":3,"x":22,"y":55},{"r":2,"c":2,"s":3,"x":288,"y":55},

{"r":0,"c":0,"m":"tri","x":52,"y":80,"t":"4.484"},
{"r":0,"c":0,"m":"dot","x":90,"y":95,"t":"4.270"},
{"r":0,"c":0,"m":"oc","x":117,"y":85,"t":"3.900"},
{"r":0,"c":0,"m":"dot","x":169,"y":143,"t":"3.357"},
{"r":0,"c":0,"m":"sq","x":186,"y":69,"t":"3.198"},
{"r":0,"c":0,"m":"sq","x":221,"y":47,"t":"2.529"},
{"r":0,"c":0,"m":"dot","x":235,"y":40,"t":"2.462"},
{"r":0,"c":1,"m":"dot","x":123,"y":114,"t":"4.281"},
{"r":0,"c":1,"m":"dot","x":192,"y":125,"t":"3.357"},
{"r":0,"c":2,"m":"oc","x":143,"y":104,"t":"4.095"},
{"r":0,"c":2,"m":"dot","x":189,"y":84,"t":"3.357"},
{"r":0,"c":2,"m":"oc","x":276,"y":49,"t":"2.508"},
{"r":1,"c":0,"m":"dot","x":118,"y":95,"t":"4.250"},
{"r":1,"c":0,"m":"dot","x":157,"y":99,"t":"3.339"},
{"r":1,"c":0,"m":"sq","x":237,"y":48,"t":"2.518"},
{"r":1,"c":0,"m":"dot","x":253,"y":40,"t":"2.436"},
{"r":1,"c":1,"m":"sq","x":155,"y":120,"t":"4.105"},
{"r":1,"c":1,"m":"dia","x":196,"y":94,"t":"3.401"},
{"r":1,"c":2,"m":"dot","x":143,"y":102,"t":"4.260"},
{"r":1,"c":2,"m":"oc","x":156,"y":115,"t":"4.031"},
{"r":1,"c":2,"m":"oc","x":170,"y":137,"t":"3.900"},
{"r":2,"c":0,"m":"dot","x":73,"y":103,"t":"4.270"},
{"r":2,"c":0,"m":"dot","x":133,"y":141,"t":"3.357"},
{"r":2,"c":0,"m":"dot","x":235,"y":69,"t":"2.465"},
{"r":2,"c":0,"m":"dot","x":265,"y":73,"t":"2.284"},
{"r":2,"c":1,"m":"dot","x":89,"y":87,"t":"4.270"},
{"r":2,"c":1,"m":"dot","x":147,"y":124,"t":"3.357"},
{"r":2,"c":1,"m":"dot","x":247,"y":69,"t":"2.462"},
{"r":2,"c":2,"m":"dot","x":97,"y":93,"t":"4.270"},
{"r":2,"c":2,"m":"dot","x":150,"y":119,"t":"3.357"},
{"r":2,"c":2,"m":"dot","x":240,"y":72,"t":"2.463"},
{"r":2,"c":2,"m":"dot","x":267,"y":69,"t":"2.289"},

{"r":0,"c":0,"m":"letter","x":28,"y":160,"t":"а"},
{"r":0,"c":1,"m":"letter","x":40,"y":167,"t":"б"},
{"r":0,"c":2,"m":"letter","x":62,"y":169,"t":"в"},
{"r":1,"c":0,"m":"letter","x":30,"y":132,"t":"г"},
{"r":1,"c":1,"m":"letter","x":43,"y":139,"t":"д"},
{"r":1,"c":2,"m":"letter","x":53,"y":152,"t":"е"},
{"r":2,"c":0,"m":"letter","x":30,"y":126,"t":"ж"},
{"r":2,"c":1,"m":"letter","x":37,"y":128,"t":"з"},
{"r":2,"c":2,"m":"letter","x":42,"y":133,"t":"и"},
{"r":0,"c":0,"m":"title","x":243,"y":200,"t":"исходн."},
{"r":0,"c":1,"m":"title","x":263,"y":200,"t":"900°C"},
{"r":0,"c":2,"m":"title","x":197,"y":200,"t":"1100°C"}
]},
"facet": {
  "row": {"field": "r", "type": "ordinal", "header": null},
  "column": {"field": "c", "type": "ordinal", "header": null}
},
"spacing": 0,
"bounds": "flush",
"spec": {
  "width": 300,
  "height": 172,
  "encoding": {
    "x": {"field": "x", "type": "quantitative", "scale": {"domain": [0, 300], "nice": false, "zero": false}, "axis": null},
    "y": {"field": "y", "type": "quantitative", "scale": {"domain": [50, 222], "nice": false, "zero": false}, "axis": null}
  },
  "layer": [
    {"transform": [{"filter": "datum.s < 3"}], "mark": {"type": "line", "color": "#3a45a0", "strokeWidth": 1.6}, "encoding": {"detail": {"field": "s", "type": "nominal"}}},
    {"transform": [{"filter": "datum.s == 3"}], "mark": {"type": "line", "color": "#ef3240", "strokeWidth": 1.4, "interpolate": "monotone"}, "encoding": {}},
    {"transform": [{"filter": "datum.m == 'dot'"}], "mark": {"type": "point", "shape": "circle", "filled": true, "color": "#111111", "size": 26, "opacity": 1}},
    {"transform": [{"filter": "datum.m == 'oc'"}], "mark": {"type": "point", "shape": "circle", "filled": false, "color": "#222222", "size": 16, "strokeWidth": 1, "opacity": 1}},
    {"transform": [{"filter": "datum.m == 'sq'"}], "mark": {"type": "point", "shape": "square", "filled": false, "color": "#777777", "size": 26, "strokeWidth": 1, "opacity": 1}},
    {"transform": [{"filter": "datum.m == 'tri'"}], "mark": {"type": "point", "shape": "triangle-up", "filled": false, "color": "#111111", "size": 30, "strokeWidth": 1.6, "opacity": 1}},
    {"transform": [{"filter": "datum.m == 'dia'"}], "mark": {"type": "point", "shape": "diamond", "filled": false, "color": "#222222", "size": 20, "strokeWidth": 1.2, "opacity": 1}},
    {"transform": [{"filter": "isValid(datum.m) && datum.m != 'letter' && datum.m != 'title'"}], "mark": {"type": "text", "angle": 270, "align": "left", "baseline": "middle", "dx": 8, "dy": 1, "font": "Liberation Serif", "fontSize": 16, "color": "#2a2a2a"}, "encoding": {"text": {"field": "t", "type": "nominal"}}},
    {"transform": [{"filter": "datum.m == 'letter'"}], "mark": {"type": "text", "align": "center", "baseline": "middle", "font": "Liberation Serif", "fontStyle": "italic", "fontSize": 25, "color": "#111111"}, "encoding": {"text": {"field": "t", "type": "nominal"}}},
    {"transform": [{"filter": "datum.m == 'title'"}], "mark": {"type": "text", "align": "center", "baseline": "middle", "font": "Liberation Serif", "fontSize": 23, "color": "#111111"}, "encoding": {"text": {"field": "t", "type": "nominal"}}}
  ]
}
}
